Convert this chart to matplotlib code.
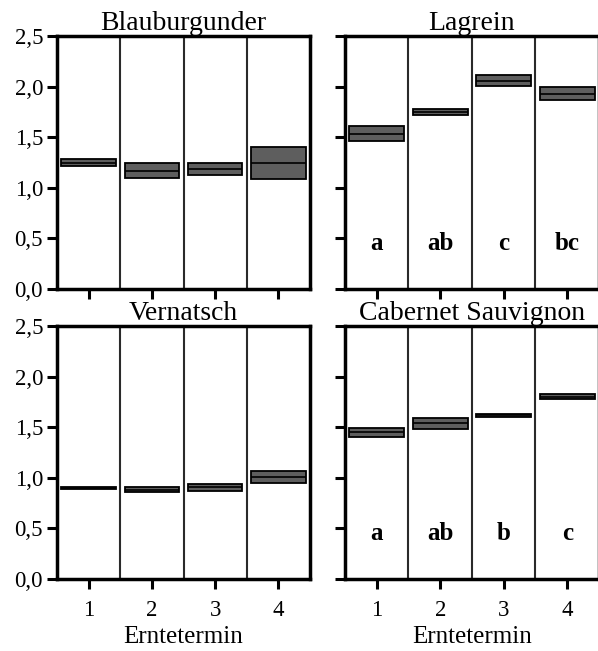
import matplotlib

matplotlib.use("Agg")
import matplotlib.pyplot as plt
from matplotlib.ticker import FixedLocator, FuncFormatter

plt.rcParams["font.family"] = ["Liberation Serif", "DejaVu Serif"]

# Erntetermin (harvest dates)
termine = [1, 2, 3, 4]

# mean value with lower / upper bound of the box, per variety
sorten = ["Blauburgunder", "Lagrein", "Vernatsch", "Cabernet Sauvignon"]
mittel = {
    "Blauburgunder": [1.25, 1.17, 1.19, 1.25],
    "Lagrein": [1.535, 1.75, 2.06, 1.93],
    "Vernatsch": [0.90, 0.88, 0.905, 1.01],
    "Cabernet Sauvignon": [1.45, 1.54, 1.62, 1.80],
}
unten = {
    "Blauburgunder": [1.215, 1.10, 1.13, 1.09],
    "Lagrein": [1.465, 1.72, 2.01, 1.87],
    "Vernatsch": [0.893, 0.855, 0.87, 0.95],
    "Cabernet Sauvignon": [1.405, 1.485, 1.605, 1.78],
}
oben = {
    "Blauburgunder": [1.28, 1.25, 1.25, 1.405],
    "Lagrein": [1.615, 1.78, 2.11, 2.00],
    "Vernatsch": [0.905, 0.905, 0.94, 1.065],
    "Cabernet Sauvignon": [1.495, 1.595, 1.635, 1.825],
}
# significance letters (only for some varieties)
buchstaben = {
    "Lagrein": ["a", "ab", "c", "bc"],
    "Cabernet Sauvignon": ["a", "ab", "b", "c"],
}

W, H = 598, 651
fig = plt.figure(figsize=(W / 100, H / 100), dpi=100, facecolor="white")

# panel boxes in pixels: (left, top, right, bottom)
panel_px = [
    (57, 36, 310, 289),
    (345, 36, 599, 289),
    (57, 326, 310, 579),
    (345, 326, 599, 579),
]

box_w = 0.86
for i, (sorte, (l, t, r, b)) in enumerate(zip(sorten, panel_px)):
    ax = fig.add_axes([l / W, (H - b) / H, (r - l) / W, (b - t) / H])
    lo = unten[sorte]
    hi = oben[sorte]
    hoehe = [h - u for h, u in zip(hi, lo)]
    ax.bar(termine, hoehe, bottom=lo, width=box_w, color="#5e5e5e",
           edgecolor="black", linewidth=1.3, zorder=3)
    ax.hlines(mittel[sorte], [x - box_w / 2 for x in termine],
              [x + box_w / 2 for x in termine], color="black", linewidth=1.2, zorder=4)

    for d in [1.5, 2.5, 3.5]:
        ax.axvline(d, color="#2a2a2a", linewidth=1.5, zorder=2)

    if sorte in buchstaben:
        for x, s in zip(termine, buchstaben[sorte]):
            ax.text(x, 0.45, s, ha="center", va="center", fontsize=18,
                    fontweight="bold", zorder=5)

    ax.set_xlim(0.5, 4.5)
    ax.set_ylim(0, 2.5)
    ax.yaxis.set_major_locator(FixedLocator([0, 0.5, 1.0, 1.5, 2.0, 2.5]))
    ax.yaxis.set_major_formatter(FuncFormatter(lambda v, _: f"{v:.1f}".replace(".", ",")))
    ax.set_xticks(termine)
    ax.tick_params(direction="out", length=7, width=2.2, labelsize=16.5, pad=3)
    ax.tick_params(axis="x", pad=8)
    for sp in ax.spines.values():
        sp.set_linewidth(2.5)

    if i % 2 == 1:
        ax.tick_params(axis="y", labelleft=False)
    if i < 2:
        ax.tick_params(axis="x", labelbottom=False)
    else:
        ax.set_xlabel("Erntetermin", fontsize=18, labelpad=4)

    ax.set_title(sorte, fontsize=20, pad=3)

fig.savefig("out.png", dpi=100, facecolor="white")
